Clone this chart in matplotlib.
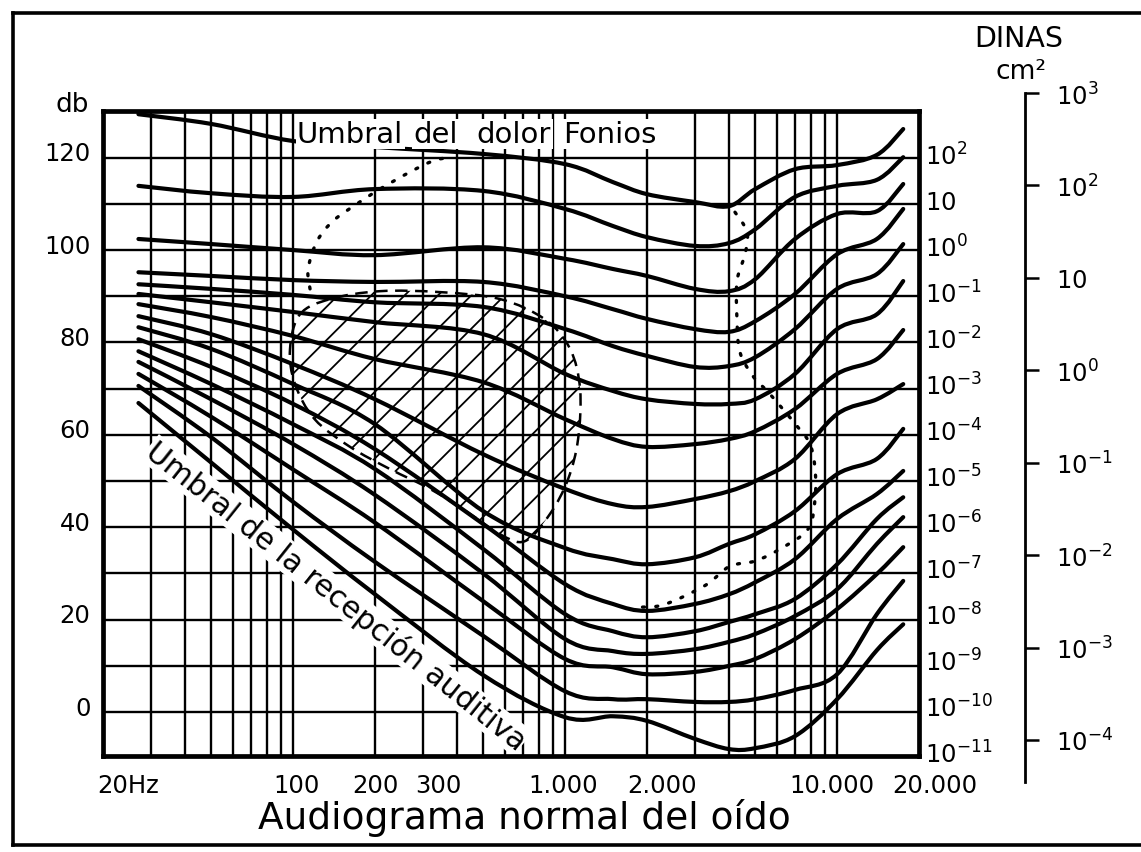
import matplotlib
matplotlib.use("Agg")
import matplotlib.pyplot as plt
from matplotlib.patches import PathPatch
from matplotlib.path import Path
from matplotlib.lines import Line2D
from matplotlib.ticker import NullLocator
from matplotlib.transforms import ScaledTranslation
import numpy as np

plt.rcParams["hatch.linewidth"] = 1.3

# ---------------- data ----------------
freq_hz = [27, 50, 100, 200, 500, 1000, 1500, 2000, 3000, 4000, 5000, 7000, 10000, 14000, 17500]

curve_01 = [129.4, 127.3, 123.6, 122.3, 120.8, 118.6, 114.7, 112.1, 110.4, 109.5, 113.2, 117.5, 118.4, 120.6, 126.2]
curve_02 = [113.9, 112.3, 111.5, 113.2, 112.8, 108.9, 105.2, 102.8, 100.9, 101.5, 104.5, 111.5, 113.9, 115.2, 120.1]
curve_03 = [102.4, 101.3, 100.0, 98.9, 100.6, 98.1, 95.9, 94.4, 91.6, 91.1, 93.7, 102.4, 107.8, 108.4, 114.3]
curve_04 = [95.2, 94.4, 93.5, 93.1, 93.1, 90.0, 87.2, 85.1, 82.9, 82.3, 84.6, 90.5, 99.1, 102.4, 108.9]
curve_05 = [92.6, 91.6, 90.3, 88.7, 87.7, 82.9, 79.2, 77.1, 74.7, 74.9, 76.8, 82.9, 91.6, 94.8, 101.3]
curve_06 = [90.5, 88.7, 86.6, 84.4, 81.8, 73.2, 69.5, 67.7, 66.7, 66.7, 67.7, 73.2, 82.9, 86.1, 93.3]
curve_07 = [88.3, 85.5, 81.4, 76.4, 71.4, 63.4, 59.1, 57.4, 58.0, 59.1, 60.8, 65.6, 73.2, 76.4, 82.7]
curve_08 = [85.7, 81.8, 75.3, 67.7, 55.8, 48.3, 45.0, 44.4, 46.1, 47.8, 50.0, 54.8, 64.5, 67.7, 71.0]
curve_09 = [83.3, 78.6, 71.0, 62.3, 43.5, 35.5, 33.1, 32.0, 33.5, 36.4, 38.5, 43.5, 51.5, 54.8, 61.3]
curve_10 = [80.7, 74.7, 66.7, 56.9, 40.7, 27.7, 23.4, 21.9, 23.4, 25.5, 28.1, 33.1, 41.8, 47.2, 52.2]
curve_11 = [78.1, 71.0, 62.3, 52.6, 35.3, 21.2, 17.5, 16.2, 17.5, 19.5, 21.2, 24.5, 32.0, 41.8, 46.5]
curve_12 = [75.8, 67.7, 58.0, 47.0, 30.0, 15.8, 13.2, 12.6, 13.6, 15.2, 16.9, 20.8, 26.6, 36.4, 42.2]
curve_13 = [73.2, 63.9, 52.5, 41.0, 24.0, 11.5, 9.7, 8.2, 8.7, 10.0, 11.5, 15.8, 22.3, 29.9, 35.7]
curve_14 = [70.6, 59.5, 45.5, 32.5, 16.5, 4.5, 2.8, 2.8, 2.2, 2.2, 2.8, 4.8, 8.2, 21.2, 28.4]
curve_15 = [66.9, 54.0, 39.5, 25.5, 8.0, -1.1, -0.9, -1.9, -5.8, -8.0, -7.8, -5.2, 2.8, 13.4, 19.0]
contours = [curve_01, curve_02, curve_03, curve_04, curve_05, curve_06, curve_07, curve_08,
            curve_09, curve_10, curve_11, curve_12, curve_13, curve_14, curve_15]

# hatched (music) region boundary
region_hz = [106, 137, 208, 347, 576, 843, 1043, 1135, 1116, 1025, 880, 712, 576, 447, 319, 227, 162, 120, 101.6, 97.4]
region_db = [86.1, 89.4, 91.1, 90.9, 89.4, 85.0, 78.6, 69.9, 59.1, 50.4, 42.9, 37.0, 38.5, 42.9, 48.3, 52.6, 57.4, 63.4, 71.0, 78.6]

# dotted region (left and right parts)
dot_left_hz = [115.4, 113.5, 122.4, 140.2, 171.7, 208.5, 269, 327, 377]
dot_left_db = [91.6, 95.9, 101.9, 106.3, 110.0, 113.2, 116.9, 119.3, 120.1]
dot_right_hz = [4212, 4665, 4585, 4284, 4284, 4394, 4907, 5668, 7122, 7950, 8294, 8294, 7816, 6166, 4992, 4038, 3408, 2952, 2493, 2177, 1838]
dot_right_db = [108.2, 103.9, 99.1, 93.3, 85.1, 77.9, 72.7, 68.8, 61.9, 58.0, 52.6, 46.1, 39.6, 35.3, 32.7, 31.6, 28.1, 26.0, 24.0, 22.9, 22.7]

grid_freqs = [30, 40, 50, 60, 70, 80, 90, 100, 200, 300, 400, 500, 600, 700, 800, 900,
              1000, 2000, 3000, 4000, 5000, 6000, 7000, 8000, 9000, 10000]
grid_levels = [0, 10, 20, 30, 40, 50, 60, 70, 80, 90, 100, 110, 120]

xtick_freqs = [20, 100, 200, 300, 1000, 2000, 10000, 20000]
xtick_labels = ["20Hz", "100", "200", "300", "1.000", "2.000", "10.000", "20.000"]
ytick_levels = [0, 20, 40, 60, 80, 100, 120]
ytick_labels = ["0", "20", "40", "60", "80", "100", "120"]

intensity_levels = [120, 110, 100, 90, 80, 70, 60, 50, 40, 30, 20, 10, 0, -10]
intensity_labels = [r"$\mathregular{10^{2}}$", r"$\mathregular{10}$", r"$\mathregular{10^{0}}$",
                    r"$\mathregular{10^{-1}}$", r"$\mathregular{10^{-2}}$", r"$\mathregular{10^{-3}}$",
                    r"$\mathregular{10^{-4}}$", r"$\mathregular{10^{-5}}$", r"$\mathregular{10^{-6}}$",
                    r"$\mathregular{10^{-7}}$", r"$\mathregular{10^{-8}}$", r"$\mathregular{10^{-9}}$",
                    r"$\mathregular{10^{-10}}$", r"$\mathregular{10^{-11}}$"]

pressure_dyn_cm2 = [1e3, 1e2, 1e1, 1e0, 1e-1, 1e-2, 1e-3, 1e-4]
pressure_labels = [r"$\mathregular{10^{3}}$", r"$\mathregular{10^{2}}$", r"$\mathregular{10}$",
                   r"$\mathregular{10^{0}}$", r"$\mathregular{10^{-1}}$", r"$\mathregular{10^{-2}}$",
                   r"$\mathregular{10^{-3}}$", r"$\mathregular{10^{-4}}$"]
p_ref = 2e-4


def smooth_path(fx, dy, closed=False):
    """Cubic Bezier path through the given points (in log-frequency space)."""
    P = np.column_stack([np.log10(fx), np.asarray(dy, float)])
    n = len(P)

    def pt(i):
        if closed:
            return P[i % n]
        return P[min(max(i, 0), n - 1)]

    verts = [P[0]]
    codes = [Path.MOVETO]
    nseg = n if closed else n - 1
    for i in range(nseg):
        p0, p1, p2, p3 = pt(i - 1), pt(i), pt(i + 1), pt(i + 2)
        verts += [p1 + (p2 - p0) / 6.0, p2 - (p3 - p1) / 6.0, p2]
        codes += [Path.CURVE4] * 3
    verts = np.array(verts)
    verts[:, 0] = 10 ** verts[:, 0]
    return Path(verts, codes)


# ---------------- figure ----------------
W, H = 1141, 853
fig = plt.figure(figsize=(W / 100, H / 100), dpi=100)
L, R, T, B = 103, 919, 112, 757
ax = fig.add_axes([L / W, 1 - B / H, (R - L) / W, (B - T) / H])
ax.set_xscale("log")
ax.set_xlim(20, 20000)
YLO, YHI = -9.5, 130.1
ax.set_ylim(YLO, YHI)

for f in grid_freqs:
    ax.axvline(f, color="black", lw=1.7, zorder=1)
for lv in grid_levels:
    ax.axhline(lv, color="black", lw=1.7, zorder=1)

# hatched region
ax.add_patch(PathPatch(smooth_path(region_hz, region_db, closed=True), facecolor="none",
                       edgecolor="black", hatch="/", linewidth=0, zorder=1.5))
ax.add_patch(PathPatch(smooth_path(region_hz, region_db, closed=True), facecolor="none",
                       edgecolor="black", linewidth=1.8, linestyle=(0, (5, 3)), zorder=1.6))

# dotted region
for hz, db in [(dot_left_hz, dot_left_db), (dot_right_hz, dot_right_db)]:
    pp = PathPatch(smooth_path(hz, db), facecolor="none", edgecolor="black", lw=2.4,
                   linestyle=(0, (0.6, 3.4)), zorder=2)
    pp.set_capstyle("round")
    ax.add_patch(pp)

# contours
for c in contours:
    pp = PathPatch(smooth_path(freq_hz, c), facecolor="none", edgecolor="black", lw=3.0, zorder=3)
    pp.set_capstyle("round")
    pp.set_joinstyle("round")
    ax.add_patch(pp)

# ticks
ax.set_xticks(xtick_freqs)
ax.set_xticklabels(xtick_labels)
ax.xaxis.set_minor_locator(NullLocator())
ax.tick_params(axis="x", length=0, pad=12, labelsize=17.5)
x_off_px = [25, 3, 0, 15, -2, 15, -5, 16]
for lab, dx in zip(ax.get_xticklabels(), x_off_px):
    lab.set_transform(lab.get_transform() + ScaledTranslation(dx / 100, 0, fig.dpi_scale_trans))

ax.set_yticks(ytick_levels)
ax.set_yticklabels(ytick_labels)
ax.yaxis.set_minor_locator(NullLocator())
ax.tick_params(axis="y", length=0, pad=9, labelsize=17.5)
for lab in ax.get_yticklabels():
    lab.set_transform(lab.get_transform() + ScaledTranslation(0, 7 / 100, fig.dpi_scale_trans))

for s in ax.spines.values():
    s.set_linewidth(3.4)

# right inner scale (intensity)
ax2 = ax.twinx()
ax2.set_ylim(YLO, YHI)
ax2.set_yticks(intensity_levels)
ax2.set_yticklabels(intensity_labels)
ax2.yaxis.set_minor_locator(NullLocator())
ax2.tick_params(axis="y", length=0, pad=4, labelsize=17.5)
for s in ax2.spines.values():
    s.set_visible(False)
for lab in ax2.get_yticklabels():
    lab.set_transform(lab.get_transform() + ScaledTranslation(0, 4 / 100, fig.dpi_scale_trans))

# outer scale (pressure, dinas/cm2)
px_per_db = (B - T) / (YHI - YLO)
P_TOP, P_BOT = 94, 783
ax3 = fig.add_axes([1025 / W, 1 - P_BOT / H, 0.0001, (P_BOT - P_TOP) / H])
ax3.set_ylim(YLO - (P_BOT - B) / px_per_db, YHI + (T - P_TOP) / px_per_db)
ax3.set_xticks([])
ax3.yaxis.tick_right()
p_ticks_db = [20 * np.log10(p / p_ref) for p in pressure_dyn_cm2]
ax3.set_yticks(p_ticks_db)
ax3.set_yticklabels(pressure_labels)
ax3.set_yticks([p_ticks_db[0]], minor=True)
ax3.tick_params(axis="y", which="major", direction="out", length=10, width=1.8, pad=12, labelsize=17.5)
ax3.tick_params(axis="y", which="minor", direction="in", length=8, width=1.8, right=True)
for name, s in ax3.spines.items():
    s.set_visible(name == "left")
ax3.spines["left"].set_linewidth(2.0)
ax3.patch.set_visible(False)

# texts
bb = dict(facecolor="white", edgecolor="none", pad=1.0)
for word, xf in [("Umbral", 0.2377), ("del", 0.380), ("dolor", 0.458), ("Fonios", 0.5637)]:
    ax.text(xf, 0.952, word, transform=ax.transAxes, fontsize=21, ha="left", va="baseline",
            bbox=bb, zorder=4)

ax.text(0.050, 0.468, "Umbral de la recepción auditiva", transform=ax.transAxes,
        fontsize=21.5, rotation=-38.5, rotation_mode="anchor", ha="left", va="baseline",
        bbox=dict(facecolor="white", edgecolor="none", pad=0.5), zorder=2.5)

fig.text(258 / W, 1 - 829 / H, "Audiograma normal del oído", fontsize=27, ha="left", va="baseline")
fig.text(1019 / W, 1 - 39 / H, "DINAS", fontsize=20.5, ha="center", va="center")
fig.text(1021 / W, 1 - 72 / H, "cm²", fontsize=19, ha="center", va="center")
fig.text(89 / W, 1 - 112 / H, "db", fontsize=19, ha="right", va="baseline")

# page border of the scan
for (x0, y0, x1, y1) in [(13, 14, W, 14), (13, 14, 13, 846), (13, 846, W, 846)]:
    fig.add_artist(Line2D([x0 / W, x1 / W], [1 - y0 / H, 1 - y1 / H], transform=fig.transFigure,
                          color="black", lw=2.6))

fig.savefig("out.png", dpi=100)
